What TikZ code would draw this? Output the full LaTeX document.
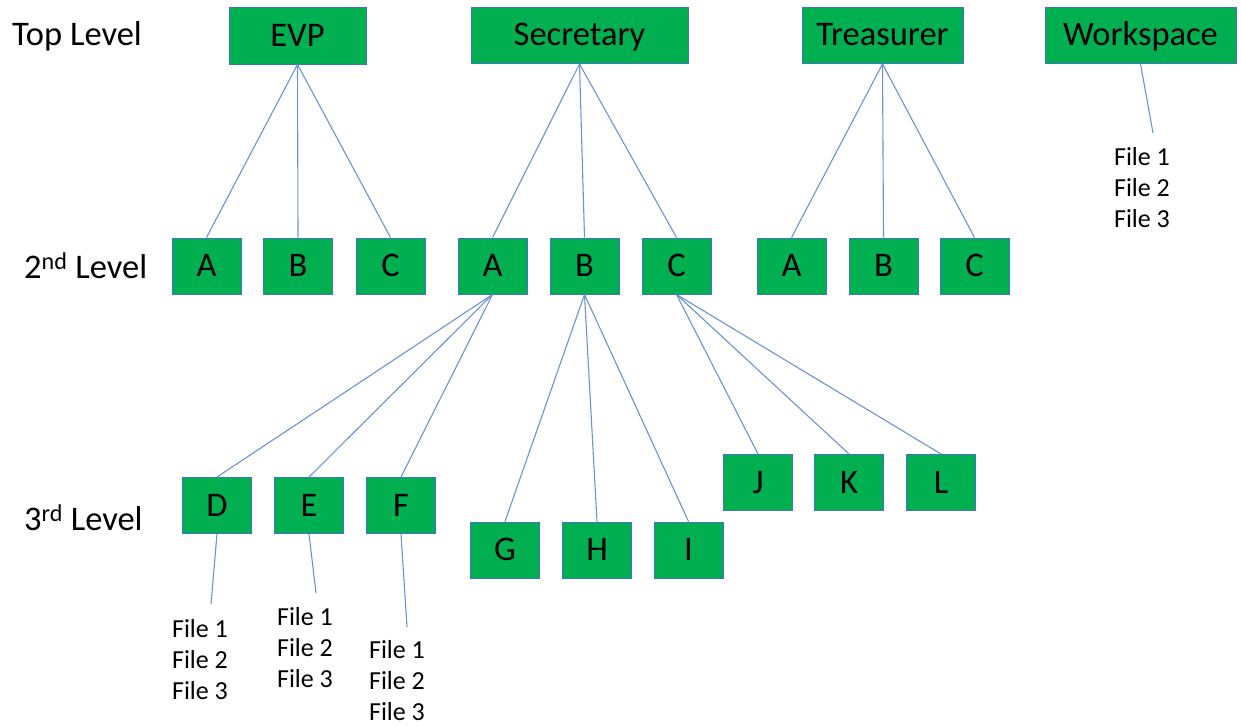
\documentclass[tikz,border=0pt]{standalone}
\usepackage{fontspec}
\setmainfont{Carlito}
\definecolor{boxgreen}{HTML}{00B050}
\definecolor{boxedge}{HTML}{4472C4}
\definecolor{linkblue}{HTML}{6A93D4}
\tikzset{
  box/.style={draw=boxedge, line width=1pt, fill=boxgreen, inner sep=0pt,
    text height=26pt, text depth=5pt,
    font=\fontsize{34.5}{40}\selectfont},
  topbox/.style={box, minimum height=56pt},
  sqbox/.style={box, minimum width=69pt, minimum height=56pt},
  link/.style={draw=linkblue, line width=1.1pt},
  lvl/.style={anchor=west, inner sep=0pt, font=\fontsize{34.5}{40}\selectfont},
  files/.style={align=center, inner sep=0pt, font=\fontsize{26}{31}\selectfont}
}
\begin{document}
\begin{tikzpicture}[x=1pt,y=-1pt]
\useasboundingbox (0,0) rectangle (1241,725);
% level labels
\node[lvl] (l1) at (12,36) {Top Level};
\node[lvl] (l2) at (24,266) {2\textsuperscript{nd} Level};
\node[lvl] (l3) at (24,518) {3\textsuperscript{rd} Level};
% top level
\node[topbox, minimum width=137pt] (evp) at (297.5,36) {EVP};
\node[topbox, minimum width=217pt] (sec) at (579.5,35.5) {Secretary};
\node[topbox, minimum width=161pt] (tre) at (882.5,35.5) {Treasurer};
\node[topbox, minimum width=191pt] (wks) at (1140.5,35.5) {Workspace};
% second level
\node[sqbox] (ea) at (206.5,266) {A};
\node[sqbox] (eb) at (298,266) {B};
\node[sqbox] (ec) at (390.5,266) {C};
\node[sqbox] (sa) at (492.5,266) {A};
\node[sqbox] (sb) at (584.5,266) {B};
\node[sqbox] (sc) at (676.5,266) {C};
\node[sqbox] (ta) at (791.5,266) {A};
\node[sqbox] (tb) at (883.5,266) {B};
\node[sqbox] (tc) at (974.5,266) {C};
% third level
\node[sqbox] (d) at (217,505.5) {D};
\node[sqbox] (e) at (309,505.5) {E};
\node[sqbox] (f) at (401,505.5) {F};
\node[sqbox] (g) at (505,550) {G};
\node[sqbox] (h) at (597,550) {H};
\node[sqbox] (i) at (688.5,550) {I};
\node[sqbox] (j) at (758,482.5) {J};
\node[sqbox] (k) at (849,482.5) {K};
\node[sqbox] (l) at (941,482.5) {L};
% file lists
\node[files] (wf) at (1142,188) {File 1\\File 2\\File 3};
\node[files] (df) at (200,660) {File 1\\File 2\\File 3};
\node[files] (ef) at (305,648) {File 1\\File 2\\File 3};
\node[files] (ff) at (397,681) {File 1\\File 2\\File 3};
\coordinate (wend) at (1153,133);
\coordinate (dend) at (211,604);
\coordinate (eend) at (316,593);
\coordinate (fend) at (407,627);
% connectors
\draw[link] (evp.south) -- (ea.north);
\draw[link] (evp.south) -- (eb.north);
\draw[link] (evp.south) -- (ec.north);
\draw[link] (sec.south) -- (sa.north);
\draw[link] (sec.south) -- (sb.north);
\draw[link] (sec.south) -- (sc.north);
\draw[link] (tre.south) -- (ta.north);
\draw[link] (tre.south) -- (tb.north);
\draw[link] (tre.south) -- (tc.north);
\draw[link] (wks.south) -- (wend);
\draw[link] (sa.south) -- (d.north);
\draw[link] (sa.south) -- (e.north);
\draw[link] (sa.south) -- (f.north);
\draw[link] (sb.south) -- (g.north);
\draw[link] (sb.south) -- (h.north);
\draw[link] (sb.south) -- (i.north);
\draw[link] (sc.south) -- (j.north);
\draw[link] (sc.south) -- (k.north);
\draw[link] (sc.south) -- (l.north);
\draw[link] (d.south) -- (dend);
\draw[link] (e.south) -- (eend);
\draw[link] (f.south) -- (fend);
\end{tikzpicture}
\end{document}
